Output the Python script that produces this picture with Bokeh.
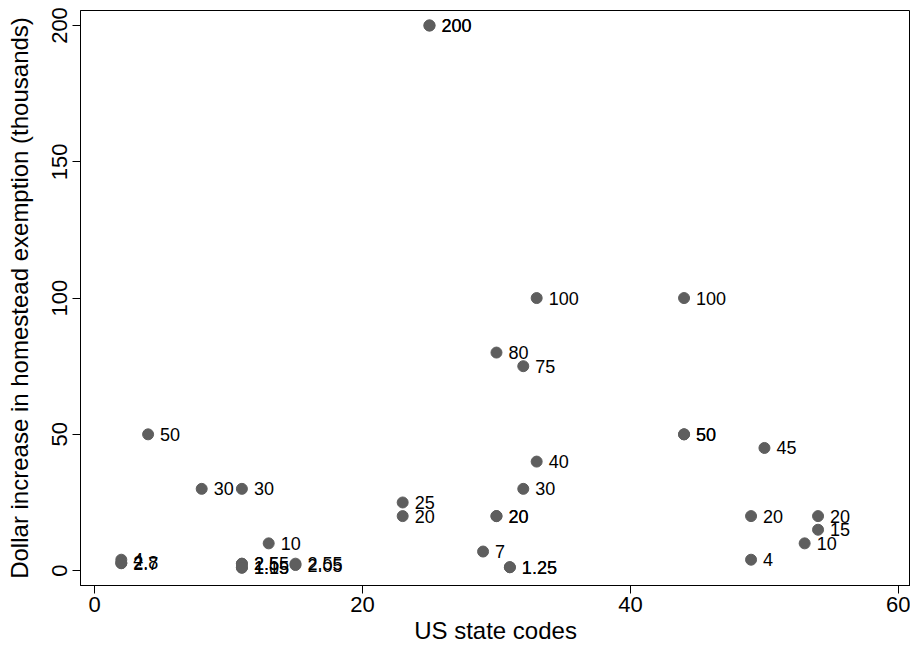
from bokeh.plotting import figure
from bokeh.models import ColumnDataSource, Range1d, FixedTicker
from bokeh.core.properties import value
from bokeh.embed import file_html
from bokeh.resources import INLINE

# US state code (x), dollar increase in thousands (y), marker labels
state_code = [25, 25, 33, 44, 30, 32, 4, 44, 44, 50, 33, 8, 11, 32, 23, 23, 30, 30,
              49, 54, 54, 53, 13, 29, 49, 31, 31, 2, 2, 2, 11, 11, 11, 11, 15, 15]
increase = [200, 200, 100, 100, 80, 75, 50, 50, 50, 45, 40, 30, 30, 30, 25, 20, 20, 20,
            20, 20, 15, 10, 10, 7, 4, 1.25, 1.25, 4, 2.8, 2.7, 2.55, 2.5, 1.05, 1.15, 2.55, 2.05]
labels = ["200", "200", "100", "100", "80", "75", "50", "50", "50", "45", "40", "30", "30", "30",
          "25", "20", "20", "20", "20", "20", "15", "10", "10", "7", "4", "1.25", "1.25",
          "4", "2.8", "2.7", "2.55", "2.5", "1.05", "1.15", "2.55", "2.05"]
x_ticks = [0, 20, 40, 60]
y_ticks = [0, 50, 100, 150, 200]

src = ColumnDataSource(dict(x=state_code, y=increase, lab=labels))

FONT = "Liberation Sans"
p = figure(width=910, height=646, output_backend="svg", toolbar_location=None,
           x_range=Range1d(-1.045, 60.9), y_range=Range1d(-5.46, 205.5),
           min_border_left=80, min_border_top=10, min_border_right=0, min_border_bottom=54)
p.background_fill_color = "white"
p.border_fill_color = "white"
p.outline_line_color = "black"
p.outline_line_width = 1
p.grid.visible = False

p.scatter("x", "y", source=src, size=11, fill_color="#5e5e5e", line_color="#5e5e5e")
p.text("x", "y", text="lab", source=src, x_offset=12, text_baseline="middle",
       text_align="left", text_font=value(FONT), text_font_size="18px", text_color="black")

for ax in (p.xaxis[0], p.yaxis[0]):
    ax.axis_line_color = "black"
    ax.major_tick_line_color = "black"
    ax.major_tick_out = 8
    ax.major_tick_in = 0
    ax.minor_tick_line_color = None
    ax.major_label_text_font = FONT
    ax.major_label_text_font_size = "22px"
    ax.major_label_text_color = "black"
    ax.axis_label_text_font = FONT
    ax.axis_label_text_font_size = "24px"
    ax.axis_label_text_font_style = "normal"
    ax.axis_label_text_color = "black"

p.xaxis.ticker = FixedTicker(ticks=x_ticks)
p.yaxis.ticker = FixedTicker(ticks=y_ticks)
p.xaxis.axis_label = "US state codes"
p.yaxis.axis_label = "Dollar increase in homestead exemption (thousands)"
p.yaxis.major_label_orientation = "vertical"
p.xaxis.major_label_standoff = 3
p.xaxis.axis_label_standoff = 2
p.yaxis.major_label_standoff = 5
p.yaxis.axis_label_standoff = 17

open("out.html", "w").write(file_html(p, INLINE))
